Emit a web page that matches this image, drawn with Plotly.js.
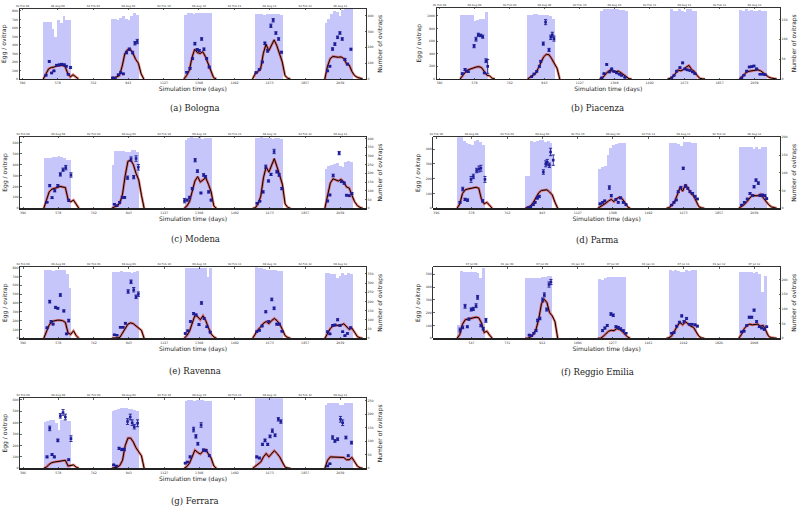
<!DOCTYPE html>
<html><head><meta charset="utf-8">
<script src="https://cdn.plot.ly/plotly-3.0.1.min.js"></script>
<style>html,body{margin:0;padding:0;background:#fff}#chart{width:800px;height:506px}</style>
</head><body><div id="chart"></div>
<script>
// ---------- tick labels ----------
const dayTicks = [396, 578, 762, 943, 1127, 1308, 1492, 1673, 1857, 2039];
const dateTicks = ['02 Feb 08','08 Aug 08','02 Feb 09','08 Aug 09','02 Feb 10','08 Aug 10','02 Feb 11','08 Aug 11','02 Feb 12','08 Aug 12'];
const reDayTicks = [547, 731, 912, 1096, 1277, 1461, 1642, 1826, 2008];
const reDateTicks = ['07 Jul 08','01 Jan 09','07 Jul 09','01 Jan 10','07 Jul 10','01 Jan 11','07 Jul 11','01 Jan 12','07 Jul 12'];

// ---------- time grids (simulation day) ----------
const barDays = [510,524,539,553,567,582,596,610,624,639, 862,876,890,904,918,932,946,960,974,988,
  1240,1254,1268,1283,1297,1311,1326,1340,1354,1369, 1604,1618,1633,1647,1661,1676,1690,1704,1719,1733,
  1966,1980,1995,2009,2023,2038,2052,2066,2081,2095];
const lineDays = [503,517,531,545,559,573,587,601,615,629,643,657,671,685, null,
  855,869,883,897,911,925,939,953,967,981,995,1009,1023, null,
  1230,1244,1258,1272,1286,1300,1314,1328,1342,1356,1370,1384,1398, null,
  1585,1599,1613,1627,1641,1655,1669,1683,1697,1711,1725,1739,1753,1767,1781, null,
  1959,1973,1987,2001,2015,2029,2043,2057,2071,2085,2099,2113,2127,2141,2155];
const reBarDays = [479,493,508,522,536,551,565,579,593,608, 831,845,859,873,887,901,915,929,943,957,
  1209,1223,1237,1252,1266,1280,1295,1309,1323,1338, 1573,1587,1602,1616,1630,1645,1659,1673,1688,1702,
  1935,1949,1964,1978,1992,2007,2021,2035,2050,2064];
const reLineDays = [472,486,500,514,528,542,556,570,584,598,612,626,640,654, null,
  824,838,852,866,880,894,908,922,936,950,964,978,992, null,
  1199,1213,1227,1241,1255,1269,1283,1297,1311,1325,1339,1353,1367, null,
  1554,1568,1582,1596,1610,1624,1638,1652,1666,1680,1694,1708,1722,1736,1750, null,
  1928,1942,1956,1970,1984,1998,2012,2026,2040,2054,2068,2082,2096,2110,2124];

// ---------- (a) Bologna ----------
const bolBars = [360,358,357,315,262,374,353,400,374,374, 381,378,374,385,396,380,370,400,417,406,
  405,417,417,410,417,417,417,417,417,414, 410,410,412,405,410,413,410,410,410,405,
  353,380,410,428,420,396,438,455,455,455];
const bolLine = [0,60,120,135,140,155,160,160,150,70,25,50,25,0, null,
  0,10,25,40,150,300,345,350,300,230,185,60,0, null,
  0,40,100,250,350,310,300,320,260,180,100,15,0, null,
  0,60,85,120,300,410,330,400,460,390,300,200,40,10,0, null,
  0,150,240,265,260,255,260,240,180,165,90,40,20,8,0];
const bolPtDays = [517,534,546,558,572,586,598,612,622,632,644, 862,874,891,903,917,934,948,965,977,989,
  1245,1262,1275,1287,1299,1310,1322,1334,1348,1361, 1603,1620,1636,1649,1663,1680,1692,1706,1720,1735,
  1973,1985,1999,2011,2025,2037,2049,2063,2076,2094];
const bolPtEggs = [44,206,71,95,162,166,174,166,150,55,135, 15,10,50,75,60,310,350,310,420,440,
  80,125,240,415,345,333,470,350,240,140, 75,110,200,420,330,625,690,540,470,315,
  95,150,352,410,490,540,470,230,175,350];
const bolPtErr = [8,10,8,8,10,10,10,10,10,8,12, 5,5,8,8,8,15,15,15,20,25,
  8,10,12,15,12,12,15,15,12,10, 8,10,10,15,15,20,20,15,15,12, 8,10,15,15,15,15,15,12,10,12];

// ---------- (b) Piacenza ----------
const piaBars = [161,161,162,162,160,146,148,151,152,168, 160,162,163,163,162,162,160,160,158,152,
  172,175,176,176,175,176,176,174,173,170, 175,172,170,175,172,168,175,175,172,170,
  173,170,175,172,174,172,170,174,172,170];
const piaLine = [0,60,110,145,165,175,190,195,180,120,60,50,10,0, null,
  0,30,60,90,170,260,350,390,385,320,240,170,0, null,
  0,10,60,110,140,120,115,125,100,65,35,5,0, null,
  0,10,40,90,140,130,150,190,215,150,120,60,10,3,0, null,
  0,30,80,115,125,130,140,145,130,100,60,30,15,5,0];
const piaPtDays = [515,529,537,546,576,586,598,610,621,630,638,647, 876,889,903,917,924,937,949,967,976,984,993,
  1242,1254,1268,1282,1294,1306,1320,1334,1346,1363, 1607,1619,1633,1650,1664,1676,1688,1702,1716,1728,
  1972,1984,1998,2012,2024,2036,2050,2068,2082,2094];
const piaPtEggs = [85,150,125,115,520,630,700,690,670,95,290,200, 35,80,120,200,280,560,900,460,660,700,640,
  20,85,230,110,160,120,95,75,55,25, 20,55,125,180,255,160,145,135,110,85,
  20,60,125,190,195,205,160,75,75,70];
const piaPtErr = [10,15,10,10,25,30,25,20,25,10,30,110, 5,10,10,15,15,25,40,25,35,40,40,
  5,8,12,10,10,8,8,8,6,5, 5,6,10,12,12,10,10,10,8,8, 5,6,10,12,12,12,10,8,8,8];

// ---------- (c) Modena ----------
const modBars = [286,286,288,291,295,300,293,286,275,275, 250,326,328,330,328,324,320,333,333,324,
  390,405,410,405,405,410,395,405,400,405, 405,405,410,405,400,405,395,405,400,395,
  225,245,250,255,258,240,238,265,270,268];
const modLine = [0,80,150,175,180,190,200,195,190,80,60,75,35,0, null,
  0,10,25,45,130,300,430,440,400,320,260,120,0, null,
  0,20,60,150,250,290,240,260,280,220,150,20,0, null,
  0,5,40,110,280,380,330,400,455,380,310,220,40,8,0, null,
  0,130,230,270,260,250,265,240,195,185,120,60,25,8,0];
const modPtDays = [520,534,546,560,576,589,603,617,632,644, 869,882,896,910,922,937,955,969,981,993,
  1232,1246,1258,1272,1287,1299,1317,1331,1341,1357,1370, 1608,1622,1639,1653,1667,1680,1696,1710,1722,1736,
  1973,1985,2002,2033,2045,2059,2071,2085,2099];
const modPtEggs = [55,207,97,160,207,310,353,372,73,305, 37,24,55,100,100,280,450,285,455,375,
  70,75,100,180,440,340,140,305,290,150,75, 46,65,150,380,250,310,520,335,305,180,
  67,122,300,505,245,230,120,115,135];
const modPtErr = [5,10,8,10,10,15,15,20,10,20, 5,5,8,8,8,15,20,15,25,25,
  20,8,10,10,15,12,8,12,10,10,8, 5,6,10,15,10,10,20,12,12,10, 8,8,12,15,10,10,8,8,8];

// ---------- (d) Parma ----------
const parBars = [200,200,190,183,180,178,190,193,188,178, 92,92,190,188,190,192,192,188,190,183,
  110,117,120,150,170,178,180,183,183,183, 183,183,185,180,176,188,188,188,183,183,
  172,174,174,174,172,167,174,167,172,174];
const parLine = [0,30,100,125,130,135,140,142,135,60,30,40,20,0, null,
  0,5,15,40,75,105,120,125,125,110,90,40,0, null,
  0,10,20,35,50,60,45,65,75,65,40,10,0, null,
  0,5,20,45,90,140,115,160,135,100,85,45,10,3,0, null,
  0,12,25,45,70,90,85,85,95,70,50,25,10,3,0];
const parPtDays = [518,532,544,557,575,587,604,616,626,635,647, 871,883,897,906,918,928,949,961,969,980,986,1000,
  1242,1255,1266,1290,1300,1324,1336,1348,1362,1376, 1612,1624,1636,1646,1660,1672,1684,1695,1707,1720,1733,1745,
  1974,1988,2003,2017,2031,2038,2048,2060,2069,2082,2094,2103];
const parPtEggs = [40,130,60,55,195,215,255,265,270,50,195, 5,10,25,40,70,80,245,300,310,290,380,325,
  30,40,50,140,85,60,40,70,40,25, 22,40,56,112,140,270,150,135,112,100,80,63,
  22,40,63,100,85,145,190,170,85,90,85,65];
const parPtErr = [5,12,8,8,20,15,15,20,20,8,20, 2,3,5,5,8,8,15,20,20,15,25,35,
  5,5,5,12,8,5,5,6,5,4, 3,4,5,6,8,8,8,6,6,6,5,5, 3,4,5,6,6,8,8,8,6,6,6,5];

// ---------- (e) Ravenna ----------
const ravBars = [372,370,372,368,372,370,372,370,350,272, 360,362,363,365,362,360,358,356,360,366,
  380,384,384,384,384,384,384,384,335,384, 386,384,380,375,372,372,370,370,368,368,
  354,354,350,352,330,340,354,345,354,350];
const ravLine = [0,70,150,190,200,205,205,200,180,60,45,85,30,0, null,
  0,0,5,10,60,120,160,175,165,140,115,90,0, null,
  0,30,80,160,260,245,210,255,200,120,50,15,0, null,
  0,50,100,130,170,190,165,200,225,200,160,100,30,8,0, null,
  0,60,110,140,150,145,150,165,130,100,115,60,20,5,0];
const ravPtDays = [520,534,541,551,564,576,589,607,621,632, 869,882,900,914,926,940,955,969,981,993,
  1236,1249,1263,1279,1292,1307,1320,1334,1348,1365, 1606,1620,1634,1653,1668,1684,1696,1710,1723,1737,
  1973,1985,1999,2011,2025,2037,2051,2063,2076,2092];
const ravPtEggs = [120,415,190,160,350,340,490,310,50,200, 40,35,125,125,170,530,640,550,470,500,
  55,85,190,280,265,155,400,225,130,70, 75,90,140,300,190,440,340,160,160,80,
  75,50,145,150,210,145,75,30,55,120];
const ravPtErr = [8,15,10,8,12,10,15,12,8,15, 5,5,8,8,10,20,20,25,20,25,
  8,8,10,12,10,10,15,10,8,8, 8,8,10,12,10,15,15,10,10,8, 8,6,10,10,12,10,8,6,8,10];

// ---------- (f) Reggio Emilia ----------
const regBars = [45,230,226,226,225,226,226,220,205,240, 206,206,204,203,203,205,207,209,210,210,
  200,198,205,208,209,209,207,209,209,208, 232,230,232,230,224,226,232,230,232,232,
  224,226,226,224,226,222,226,218,156,212];
const regLine = [0,30,110,145,150,155,160,165,160,120,45,55,25,0, null,
  0,0,10,30,70,150,270,305,280,200,175,130,0, null,
  0,0,15,35,55,62,60,75,70,55,35,10,0, null,
  0,5,20,60,95,125,105,130,110,95,85,55,15,3,0, null,
  0,30,75,100,110,105,108,110,95,100,60,15,5,2,0];
const regPtDays = [487,501,513,525,533,545,556,570,578,595,607,621, 845,857,869,880,888,900,914,923,935,947,957,
  1224,1236,1248,1267,1279,1293,1305,1317,1331,1345, 1581,1593,1607,1621,1633,1645,1658,1672,1686,1702,1714,
  1943,1955,1969,1982,1995,2007,2020,2034,2046,2060,2072];
const regPtEggs = [65,85,250,90,150,225,230,255,320,100,75,140, 25,20,40,60,140,155,300,340,225,420,440,
  60,80,100,190,180,90,85,75,60,40, 40,45,95,125,175,130,155,110,110,105,95,
  50,55,100,165,165,220,130,90,80,70,90];
const regPtErr = [15,10,15,8,8,12,12,15,15,10,10,15, 5,5,5,8,10,10,15,15,12,20,20,
  8,8,8,10,10,8,8,6,6,5, 5,5,6,8,8,8,8,6,6,6,6, 5,5,6,8,8,8,8,6,6,6,6];

// ---------- (g) Ferrara ----------
const ferBars = [172,175,180,178,168,140,178,180,176,176, 212,216,220,222,222,222,220,218,216,213,
  250,252,252,250,252,252,252,250,250,250, 260,260,260,260,260,260,260,260,260,260,
  236,240,240,242,240,235,234,240,240,240];
const ferLine = [0,10,35,50,55,60,65,70,70,20,25,30,10,0, null,
  0,5,10,25,70,200,265,265,230,180,150,110,0, null,
  0,15,45,100,160,140,125,150,165,125,90,20,0, null,
  0,20,40,55,100,130,100,125,155,130,100,55,10,3,0, null,
  0,70,100,100,98,97,100,95,75,75,95,55,20,5,0];
const ferPtDays = [520,534,546,558,576,589,603,615,632,644, 865,879,893,907,920,937,951,961,972,989,
  1236,1248,1261,1279,1291,1301,1318,1330,1344,1361, 1606,1620,1636,1649,1663,1675,1687,1701,1718,1731,
  1973,1985,1999,2011,2025,2040,2051,2068,2080,2097];
const ferPtEggs = [100,350,120,100,245,460,490,450,75,260, 30,20,175,165,165,410,450,400,365,395,
  45,55,100,340,280,215,380,160,155,110, 100,90,210,245,210,280,330,290,430,410,
  20,40,270,240,255,430,400,270,110,225];
const ferPtErr = [8,20,8,8,12,20,25,25,8,25, 5,5,10,10,10,25,25,25,20,30,
  5,5,8,20,15,12,20,10,10,8, 8,8,10,12,10,12,15,12,15,15, 5,5,15,12,12,25,25,12,8,12];

// ---------- panel layout (positions in px of the 800x506 page) ----------
const W = 800, H = 506;
const panels = [
  {cap:'(a) Bologna', bars:bolBars, line:bolLine, pd:bolPtDays, pe:bolPtEggs, perr:bolPtErr, bd:barDays, ld:lineDays,
   xr:[380,2172], tv:dayTicks, tt:dateTicks, yl:[0,828], dl:100, yr:[0,445], dr:100, box:[19.5,366,8.5,79], capPos:[195,108]},
  {cap:'(b) Piacenza', bars:piaBars, line:piaLine, pd:piaPtDays, pe:piaPtEggs, perr:piaPtErr, bd:barDays, ld:lineDays,
   xr:[380,2172], tv:dayTicks, tt:dateTicks, yl:[0,1132], dl:200, yr:[0,180], dr:50, box:[436.5,780,7.5,79], capPos:[597,108]},
  {cap:'(c) Modena', bars:modBars, line:modLine, pd:modPtDays, pe:modPtEggs, perr:modPtErr, bd:barDays, ld:lineDays,
   xr:[380,2172], tv:dayTicks, tt:dateTicks, yl:[0,655], dl:100, yr:[0,410], dr:50, box:[20,366,136.7,208.3], capPos:[195,238.5]},
  {cap:'(d) Parma', bars:parBars, line:parLine, pd:parPtDays, pe:parPtEggs, perr:parPtErr, bd:barDays, ld:lineDays,
   xr:[380,2172], tv:dayTicks, tt:dateTicks, yl:[0,479], dl:100, yr:[0,200], dr:50, box:[433.3,780,137.3,208.3], capPos:[597,239.5]},
  {cap:'(e) Ravenna', bars:ravBars, line:ravLine, pd:ravPtDays, pe:ravPtEggs, perr:ravPtErr, bd:barDays, ld:lineDays,
   xr:[380,2172], tv:dayTicks, tt:dateTicks, yl:[0,804], dl:100, yr:[0,386], dr:50, box:[20,366,267.3,338.3], capPos:[195,370.5]},
  {cap:'(f) Reggio Emilia', bars:regBars, line:regLine, pd:regPtDays, pe:regPtEggs, perr:regPtErr, bd:reBarDays, ld:reLineDays,
   xr:[349,2141], tv:reDayTicks, tt:reDateTicks, yl:[0,555], dl:100, yr:[0,241], dr:50, box:[433.3,780,267.3,338.3], capPos:[597,371.5]},
  {cap:'(g) Ferrara', bars:ferBars, line:ferLine, pd:ferPtDays, pe:ferPtEggs, perr:ferPtErr, bd:barDays, ld:lineDays,
   xr:[380,2172], tv:dayTicks, tt:dateTicks, yl:[0,614], dl:100, yr:[0,259], dr:50, box:[20,366,398.3,468.3], capPos:[195,500.5]}
];

const tickFont = {family:'DejaVu Sans', size:3.2, color:'#333'};
const topFont = {family:'DejaVu Sans', size:2.7, color:'#333'};
const titleFont = {family:'DejaVu Sans', size:6, color:'#222'};
const BAR = 'rgb(198,198,250)', PT = 'rgb(28,28,150)';

const data = [];
const layout = {
  width: W, height: H, margin:{l:0,r:0,t:0,b:0}, paper_bgcolor:'#fff', plot_bgcolor:'rgba(0,0,0,0)',
  showlegend:false, bargap:0, annotations:[]
};

panels.forEach((p, i) => {
  const xb = 2*i+1, xt = 2*i+2, yb = 2*i+1, yo = 2*i+2;
  const [L, R, T, B] = p.box;
  const xd = [L/W, R/W], yd = [1 - B/H, 1 - T/H];
  const xn = k => k===1 ? 'xaxis' : 'xaxis'+k;
  const yn = k => k===1 ? 'yaxis' : 'yaxis'+k;
  layout[xn(xb)] = {domain:xd, anchor:'y'+(yb===1?'':yb), range:p.xr, tickvals:p.tv, ticktext:p.tv.map(String),
    ticks:'inside', ticklen:1.5, tickwidth:0.6, tickcolor:'#000', tickfont:tickFont, showgrid:false, zeroline:false,
    showline:true, linecolor:'#222', linewidth:1.4, fixedrange:true,
    title:{text:'Simulation time (days)', font:titleFont, standoff:2}};
  layout[xn(xt)] = {domain:xd, overlaying:'x'+(xb===1?'':xb), side:'top', anchor:'y'+(yb===1?'':yb), range:p.xr,
    tickvals:p.tv, ticktext:p.tt, ticks:'inside', ticklen:1.5, tickwidth:0.6, tickcolor:'#000', tickfont:topFont,
    showgrid:false, zeroline:false, showline:true, linecolor:'#000', linewidth:0.8, fixedrange:true};
  layout[yn(yb)] = {domain:yd, anchor:'x'+(xb===1?'':xb), side:'right', range:p.yr, dtick:p.dr, tick0:0,
    ticks:'inside', ticklen:1.5, tickwidth:0.6, tickcolor:'#000', tickfont:tickFont, showgrid:false, zeroline:false,
    showline:true, linecolor:'#000', linewidth:0.8, fixedrange:true,
    title:{text:'Number of ovitraps', font:titleFont, standoff:5}};
  layout[yn(yo)] = {domain:yd, overlaying:'y'+(yb===1?'':yb), anchor:'x'+(xb===1?'':xb), side:'left', range:p.yl, dtick:p.dl, tick0:0,
    ticks:'inside', ticklen:1.5, tickwidth:0.6, tickcolor:'#000', tickfont:tickFont, showgrid:false, zeroline:false,
    showline:true, linecolor:'#000', linewidth:0.8, fixedrange:true,
    title:{text:'Egg / ovitrap', font:titleFont, standoff:4}};

  const xa = 'x'+(xb===1?'':xb), ya = 'y'+(yb===1?'':yb), yl = 'y'+yo, xtop = 'x'+xt;
  data.push({type:'bar', x:p.bd, y:p.bars, width:15.2, xaxis:xa, yaxis:ya, marker:{color:BAR, line:{width:0}}, hoverinfo:'skip'});
  data.push({type:'scatter', mode:'lines', x:[], y:[], xaxis:xtop, yaxis:ya, hoverinfo:'skip'});
  data.push({type:'scatter', mode:'lines', x:p.ld, y:p.line, xaxis:xa, yaxis:yl, line:{color:'rgba(225,70,55,0.7)', width:2.6}, hoverinfo:'skip'});
  data.push({type:'scatter', mode:'lines', x:p.ld, y:p.line, xaxis:xa, yaxis:yl, line:{color:'#000', width:1}, hoverinfo:'skip'});
  data.push({type:'scatter', mode:'markers', x:p.pd, y:p.pe, xaxis:xa, yaxis:yl,
    marker:{symbol:'square', size:2.6, color:PT},
    error_y:{type:'data', array:p.perr, visible:true, color:PT, thickness:0.9, width:1.6}, hoverinfo:'skip'});
  layout.annotations.push({text:p.cap, xref:'paper', yref:'paper', x:p.capPos[0]/W, y:1 - p.capPos[1]/H,
    xanchor:'center', yanchor:'middle', showarrow:false, font:{family:'DejaVu Serif', size:8.5, color:'#222'}});
});

Plotly.newPlot('chart', data, layout, {displayModeBar:false, staticPlot:true});
</script></body></html>
